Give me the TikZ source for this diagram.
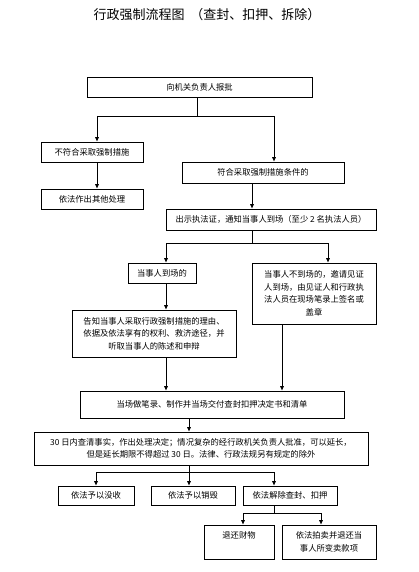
\documentclass[tikz,border=0pt]{standalone}
\usepackage{fontspec}
\setmainfont{Noto Sans CJK SC}
\XeTeXlinebreaklocale "zh"
\XeTeXlinebreakskip=0.6pt plus 0.1pt
\usetikzlibrary{arrows.meta}
\begin{document}
\begin{tikzpicture}[x=1pt,y=-1pt,
  box/.style={draw, line width=0.6pt, inner sep=1pt, font=\fontsize{8.3}{12.5}\selectfont, align=center},
  arr/.style={-{Latex[length=4.5pt,width=4pt]}, line width=0.6pt},
  ln/.style={line width=0.6pt}]
\useasboundingbox (0,0) rectangle (419,572);
\node[font=\fontsize{13}{15}\selectfont] (title) at (207,15) {行政强制流程图\hspace{6pt}（查封、扣押、拆除）};

\node[box, minimum width=225pt, minimum height=20pt] (b1) at (199.5,87) {向机关负责人报批};
\node[box, minimum width=102pt, minimum height=20pt] (b2) at (92,152) {不符合采取强制措施};
\node[box, minimum width=102pt, minimum height=20pt] (b2b) at (92,199) {依法作出其他处理};
\node[box, minimum width=162pt, minimum height=21pt] (b3) at (263,172.5) {符合采取强制措施条件的};
\node[box, minimum width=210pt, minimum height=21pt] (b4) at (271,219.5) {出示执法证，通知当事人到场（至少 2 名执法人员）};
\node[box, minimum width=68pt, minimum height=20pt] (b5) at (162,273) {当事人到场的};
\node[box, minimum width=124pt, minimum height=61pt] (b6) at (314,293.5) {当事人不到场的，邀请见证\\人到场，由见证人和行政执\\法人员在现场笔录上签名或\\盖章};
\node[box, minimum width=164pt, minimum height=47pt] (b7) at (154,333.5) {告知当事人采取行政强制措施的理由、\\依据及依法享有的权利、救济途径，并\\听取当事人的陈述和申辩};
\node[box, minimum width=264pt, minimum height=27pt] (b8) at (212,404.5) {当场做笔录、制作并当场交付查封扣押决定书和清单};
\node[box, minimum width=334pt, minimum height=33pt] (b9) at (201,448.5) {30 日内查清事实，作出处理决定；情况复杂的经行政机关负责人批准，可以延长，\\但是延长期限不得超过 30 日。法律、行政法规另有规定的除外};
\node[box, minimum width=76pt, minimum height=19pt] (b10) at (96,495.5) {依法予以没收};
\node[box, minimum width=84pt, minimum height=19pt] (b11) at (193,495.5) {依法予以销毁};
\node[box, minimum width=94pt, minimum height=19pt] (b12) at (290,495.5) {依法解除查封、扣押};
\node[box, minimum width=70pt, minimum height=34pt] (b13) at (239,542) {退还财物\\\phantom{退}};
\node[box, minimum width=94pt, minimum height=34pt] (b14) at (329,542) {依法拍卖并退还当\\事人所变卖款项};

\coordinate (j1) at (197,116);
\coordinate (j1L) at (97,116);
\coordinate (j1R) at (274,116);
\draw[ln] (b1.south -| j1) -- (j1);
\draw[ln] (j1L) -- (j1R);
\draw[arr] (j1L) -- (b2.north -| j1L);
\draw[arr] (j1R) -- (b3.north -| j1R);
\draw[arr] (b2.south -| j1L) -- (b2b.north -| j1L);

\coordinate (x3) at (252,0);
\draw[arr] (b3.south -| x3) -- (b4.north -| x3);

\coordinate (j2) at (252,243);
\coordinate (j2L) at (166,243);
\coordinate (j2R) at (328,243);
\draw[ln] (b4.south -| j2) -- (j2);
\draw[ln] (j2L) -- (j2R);
\draw[arr] (j2L) -- (b5.north -| j2L);
\draw[arr] (j2R) -- (b6.north -| j2R);
\draw[arr] (b5.south -| j2L) -- (b7.north -| j2L);
\draw[arr] (b7.south -| j2L) -- (b8.north -| j2L);
\coordinate (x6) at (282,0);
\draw[arr] (b6.south -| x6) -- (b8.north -| x6);
\coordinate (x8) at (189,0);
\draw[arr] (b8.south -| x8) -- (b9.north -| x8);

\coordinate (j3) at (189,472);
\coordinate (j3L) at (96,472);
\coordinate (j3R) at (274,472);
\draw[ln] (b9.south -| j3) -- (j3);
\draw[ln] (j3L) -- (j3R);
\draw[arr] (j3L) -- (b10.north -| j3L);
\draw[arr] (j3) -- (b11.north -| j3);
\draw[arr] (j3R) -- (b12.north -| j3R);

\coordinate (j4) at (274,513);
\coordinate (j4L) at (243,513);
\coordinate (j4R) at (321,513);
\draw[ln] (b12.south -| j4) -- (j4);
\draw[ln] (j4L) -- (j4R);
\draw[arr] (j4L) -- (b13.north -| j4L);
\draw[arr] (j4R) -- (b14.north -| j4R);
\end{tikzpicture}
\end{document}
